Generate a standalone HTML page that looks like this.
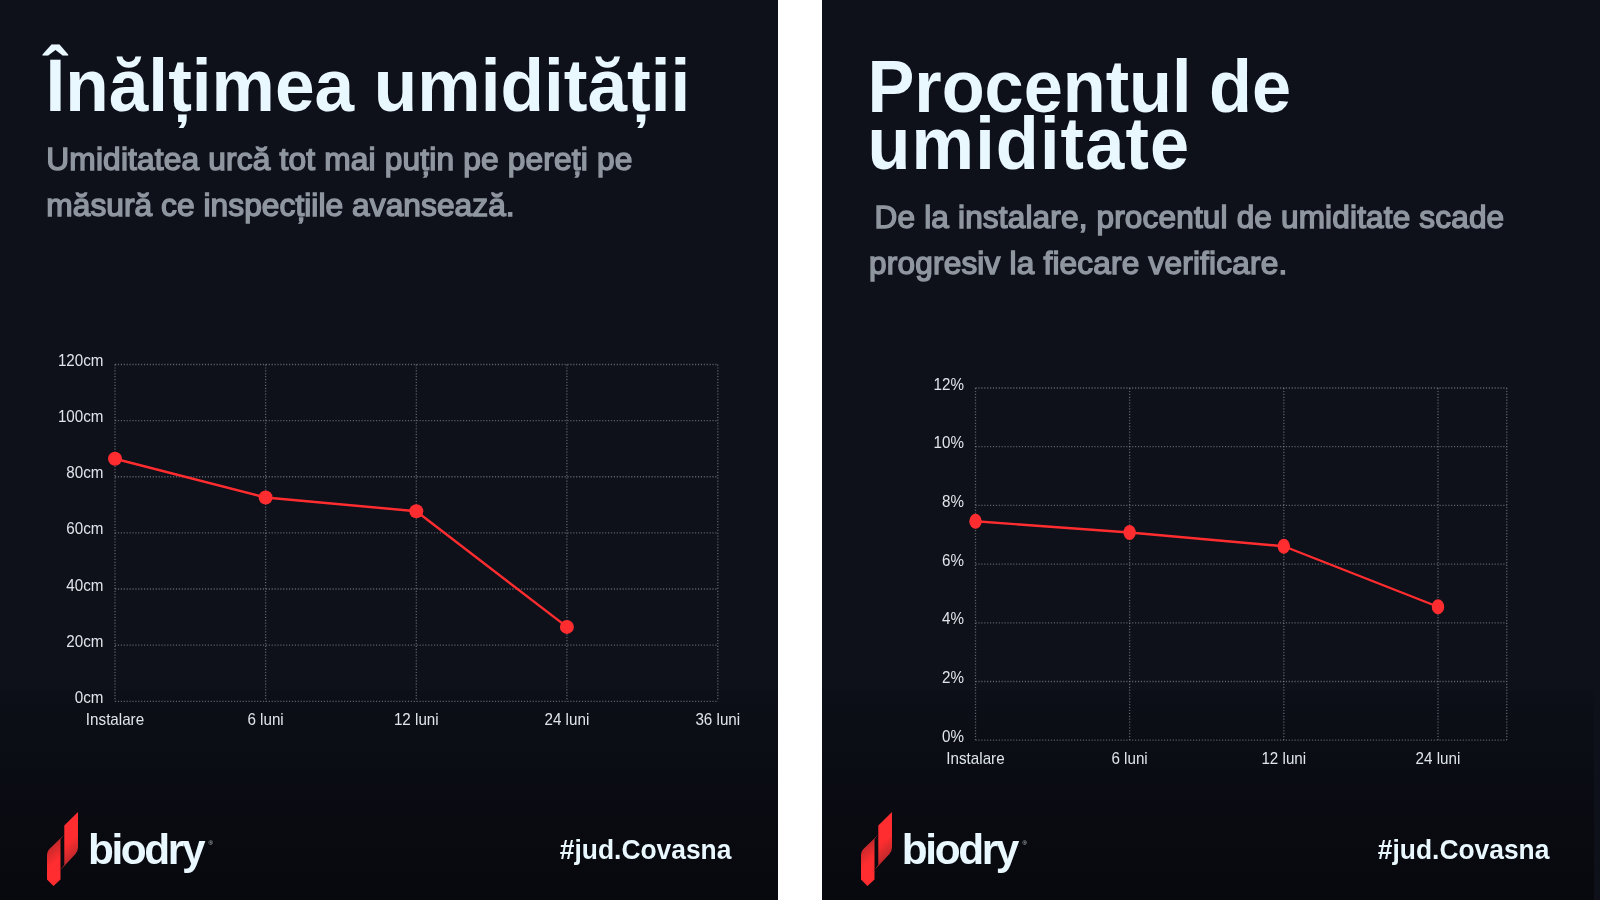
<!DOCTYPE html>
<html lang="ro"><head><meta charset="utf-8"><title>Biodry</title>
<style>
html,body{margin:0;padding:0;}
body{width:1600px;height:900px;background:#fff;position:relative;overflow:hidden;font-family:"Liberation Sans",sans-serif;}
.panel{position:absolute;top:0;width:778.4px;height:900px;background:#0e101a;overflow:hidden;will-change:transform;}
.fade{position:absolute;top:690px;width:778.4px;height:210px;background:linear-gradient(to bottom,rgba(5,6,9,.1) 0,rgba(5,6,9,.45) 50%,rgba(5,6,9,.72) 100%);}
.title{position:absolute;transform-origin:0 0;top:58.5px;color:#e9f7fe;font-weight:bold;font-size:70.6px;line-height:58px;white-space:nowrap;letter-spacing:0px;}
.sub{position:absolute;color:#8f969f;font-weight:normal;-webkit-text-stroke:1.45px #8f969f;letter-spacing:0.16px;font-size:32px;line-height:46.6px;white-space:pre;}
.brand{position:absolute;left:0;top:0;}
.logo{position:absolute;left:40px;top:805px;}
.bt{position:absolute;left:88px;top:826px;font-weight:bold;font-size:42.4px;line-height:48px;color:#e9f7fe;letter-spacing:-2.4px;}
.reg{position:absolute;left:208.6px;top:839px;font-size:6px;line-height:8px;color:#c9d3da;}
.tag{position:absolute;transform-origin:0 0;transform:scaleY(1.07);right:46px;top:833.3px;font-weight:bold;font-size:26.4px;line-height:30px;color:#e9f7fe;white-space:nowrap;}
svg.ch{position:absolute;left:0;top:0;will-change:transform;}
.grid line{stroke:#9aa0aa;stroke-opacity:.55;stroke-width:1.3;stroke-dasharray:1.2 1.7;fill:none;}
.lab text{font-family:"Liberation Sans",sans-serif;font-size:15.2px;fill:#dfe5ea;}
.ln{fill:none;stroke:#ff2d2f;stroke-width:2.4;stroke-linejoin:round;}
.dot{fill:#ff2d2f;}
</style></head><body>
<div class="panel" style="left:0px;width:778.4px">
<div class="fade" style="left:0.0px"></div>
<div class="title" style="left:45.5px;top:57.1px;font-size:71.2px;line-height:56px;transform:scaleY(1.035)">Înălțimea umidității</div>
<div class="sub" style="top:135.6px;left:46.3px;font-size:31.7px;line-height:46.7px">Umiditatea urcă tot mai puțin pe pereți pe<br><span style="letter-spacing:0.05px">măsură ce inspecțiile avansează.</span></div>
<div class="brand" style="left:0px"><svg class="logo" viewBox="0 0 500 900" width="50" height="90">
<defs>
<linearGradient id="gA1" x1="105" y1="415" x2="200" y2="530" gradientUnits="userSpaceOnUse">
<stop offset="0" stop-color="#c5292c"/><stop offset="1" stop-color="#ff2d2f"/></linearGradient>
<linearGradient id="gB1" x1="345" y1="500" x2="255" y2="395" gradientUnits="userSpaceOnUse">
<stop offset="0" stop-color="#c5292c"/><stop offset="1" stop-color="#ff2d2f"/></linearGradient>
</defs>
<path fill="url(#gA1)" d="M70,745 V505 Q70,462 102,432 L240,301 L205,343 V745 L135,810 Z"/>
<path fill="url(#gB1)" d="M243,205 L380,70 V425 Q380,462 352,492 L205,650 L243,598 Z"/>
</svg><span class="bt">biodry</span><span class="reg">®</span></div>
<div class="tag" style="right:47px">#jud.Covasna</div>
</div>
<div class="panel" style="left:821.6px;width:777.8px">
<div class="fade" style="left:-6.7px"></div>
<div class="title" style="left:45.4px;top:57.6px;font-size:70.3px;line-height:54.76px;transform:scaleY(1.05)"><span style="word-spacing:-2px">Procentul de</span><br><span style="letter-spacing:1.15px">umiditate</span></div>
<div class="sub" style="top:193.8px;left:47px;font-size:31.55px;line-height:46.4px"><span style="padding-left:5.6px">De la instalare, procentul de umiditate scade</span><br><span style="letter-spacing:0.2px">progresiv la fiecare verificare.</span></div>
<div class="brand" style="left:-8.2px"><svg class="logo" viewBox="0 0 500 900" width="50" height="90">
<defs>
<linearGradient id="gA2" x1="105" y1="415" x2="200" y2="530" gradientUnits="userSpaceOnUse">
<stop offset="0" stop-color="#c5292c"/><stop offset="1" stop-color="#ff2d2f"/></linearGradient>
<linearGradient id="gB2" x1="345" y1="500" x2="255" y2="395" gradientUnits="userSpaceOnUse">
<stop offset="0" stop-color="#c5292c"/><stop offset="1" stop-color="#ff2d2f"/></linearGradient>
</defs>
<path fill="url(#gA2)" d="M70,745 V505 Q70,462 102,432 L240,301 L205,343 V745 L135,810 Z"/>
<path fill="url(#gB2)" d="M243,205 L380,70 V425 Q380,462 352,492 L205,650 L243,598 Z"/>
</svg><span class="bt">biodry</span><span class="reg">®</span></div>
<div class="tag" style="right:50.4px">#jud.Covasna</div>
</div>
<svg class="ch" width="1600" height="900" viewBox="0 0 1600 900">
<g class="grid"><line x1="115" y1="364.5" x2="717.8" y2="364.5"/><line x1="115" y1="420.63" x2="717.8" y2="420.63"/><line x1="115" y1="476.76" x2="717.8" y2="476.76"/><line x1="115" y1="532.89" x2="717.8" y2="532.89"/><line x1="115" y1="589.02" x2="717.8" y2="589.02"/><line x1="115" y1="645.15" x2="717.8" y2="645.15"/><line x1="115" y1="701.28" x2="717.8" y2="701.28"/><line x1="115" y1="364.5" x2="115" y2="701.28"/><line x1="265.6" y1="364.5" x2="265.6" y2="701.28"/><line x1="416.3" y1="364.5" x2="416.3" y2="701.28"/><line x1="566.9" y1="364.5" x2="566.9" y2="701.28"/><line x1="717.8" y1="364.5" x2="717.8" y2="701.28"/></g>
<g class="lab" transform="scale(1,1.05)"><text x="103.50" y="348.57" text-anchor="end">120cm</text><text x="103.50" y="402.03" text-anchor="end">100cm</text><text x="103.50" y="455.49" text-anchor="end">80cm</text><text x="103.50" y="508.94" text-anchor="end">60cm</text><text x="103.50" y="562.40" text-anchor="end">40cm</text><text x="103.50" y="615.86" text-anchor="end">20cm</text><text x="103.50" y="669.31" text-anchor="end">0cm</text><text x="115.00" y="690.19" text-anchor="middle">Instalare</text><text x="265.60" y="690.19" text-anchor="middle">6 luni</text><text x="416.30" y="690.19" text-anchor="middle">12 luni</text><text x="566.90" y="690.19" text-anchor="middle">24 luni</text><text x="717.80" y="690.19" text-anchor="middle">36 luni</text></g>
<polyline class="ln" points="115,458.75 265.6,497.5 416.3,511.25 566.9,626.9"/>
<ellipse class="dot" cx="115" cy="458.75" rx="7" ry="7"/>
<ellipse class="dot" cx="265.6" cy="497.5" rx="7" ry="7"/>
<ellipse class="dot" cx="416.3" cy="511.25" rx="7" ry="7"/>
<ellipse class="dot" cx="566.9" cy="626.9" rx="7" ry="7"/>
<g class="grid"><line x1="975.5" y1="388.0" x2="1506.75" y2="388.0"/><line x1="975.5" y1="446.7" x2="1506.75" y2="446.7"/><line x1="975.5" y1="505.4" x2="1506.75" y2="505.4"/><line x1="975.5" y1="564.1" x2="1506.75" y2="564.1"/><line x1="975.5" y1="622.8" x2="1506.75" y2="622.8"/><line x1="975.5" y1="681.5" x2="1506.75" y2="681.5"/><line x1="975.5" y1="740.2" x2="1506.75" y2="740.2"/><line x1="975.5" y1="388.0" x2="975.5" y2="740.2"/><line x1="1129.6" y1="388.0" x2="1129.6" y2="740.2"/><line x1="1283.8" y1="388.0" x2="1283.8" y2="740.2"/><line x1="1438" y1="388.0" x2="1438" y2="740.2"/><line x1="1506.75" y1="388.0" x2="1506.75" y2="740.2"/></g>
<g class="lab" transform="scale(1,1.06)"><text x="964.00" y="367.55" text-anchor="end">12%</text><text x="964.00" y="422.92" text-anchor="end">10%</text><text x="964.00" y="478.30" text-anchor="end">8%</text><text x="964.00" y="533.68" text-anchor="end">6%</text><text x="964.00" y="589.06" text-anchor="end">4%</text><text x="964.00" y="644.43" text-anchor="end">2%</text><text x="964.00" y="699.81" text-anchor="end">0%</text><text x="975.50" y="720.66" text-anchor="middle">Instalare</text><text x="1129.60" y="720.66" text-anchor="middle">6 luni</text><text x="1283.80" y="720.66" text-anchor="middle">12 luni</text><text x="1438.00" y="720.66" text-anchor="middle">24 luni</text></g>
<polyline class="ln" points="975.5,521.25 1129.6,532.5 1283.8,546.25 1438,606.75"/>
<ellipse class="dot" cx="975.5" cy="521.25" rx="6.2" ry="7.6"/>
<ellipse class="dot" cx="1129.6" cy="532.5" rx="6.2" ry="7.6"/>
<ellipse class="dot" cx="1283.8" cy="546.25" rx="6.2" ry="7.6"/>
<ellipse class="dot" cx="1438" cy="606.75" rx="6.2" ry="7.6"/>
</svg>
</body></html>
